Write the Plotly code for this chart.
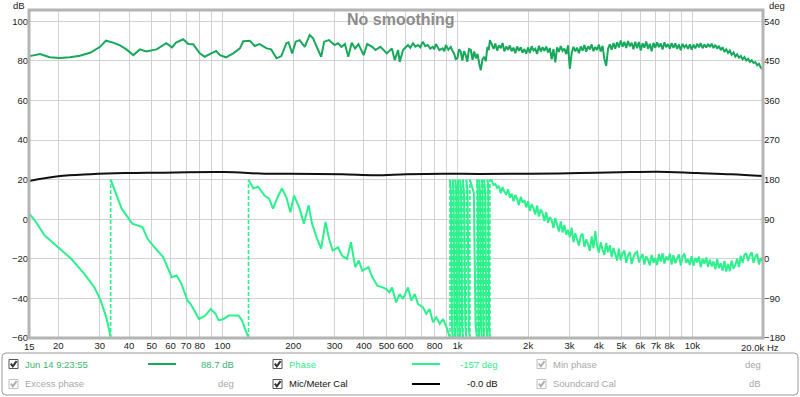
import math
import plotly.graph_objects as go

# ---------------- data ----------------
# SPL (dB), low / mid frequency part
spl_freq_lo = [15.1, 16.7, 18.4, 20.3, 22.4, 24.7, 27.3, 30.1, 31.9, 34.2, 36.6, 39.0, 41.7, 44.5, 47.3,
               52.4, 57.6, 61, 63.4, 68, 71.5, 75, 80, 84, 89.5, 94, 97.5, 103.5, 111, 118.6, 122.5,
               130.7, 137, 144, 154, 161, 170, 178, 187, 191, 198, 205, 213,
               224, 235, 243, 251, 263, 271, 284, 300, 310, 321, 332, 343, 355, 367, 379, 399, 413,
               434, 448, 470, 485, 501, 526, 541, 559, 568, 587, 616, 630, 647, 662, 679, 695, 712,
               730, 748, 766, 785, 797, 810, 838, 865, 880, 893, 915, 937, 952, 968, 984, 1000, 1016,
               1033, 1050, 1067, 1085, 1102, 1120, 1140, 1160, 1178, 1198, 1218, 1238, 1258, 1279,
               1300, 1320, 1343, 1360, 1375]
spl_db_lo = [82.4, 83.4, 81.8, 81.4, 81.8, 82.6, 84.1, 87.1, 90.2, 89.2, 87.8, 85.8, 82.9, 85.8, 84.8,
             85.8, 88.9, 86.8, 89.2, 90.9, 88.5, 88.4, 83.8, 82.1, 83.8, 85.0, 82.9, 81.8, 83.8, 86.3, 89.9,
             90.2, 87.5, 88.5, 86.3, 85.8, 81.3, 82.4, 88.9, 89.4, 83.8, 89.7, 90.5,
             87.1, 93.1, 91.4, 87.5, 82.1, 89.7, 90.5, 88.0, 88.9, 87.1, 88.5, 82.1, 89.2, 86.3, 88.5, 82.9, 88.5,
             87.1, 85.5, 87.1, 85.2, 83.8, 86.3, 80.4, 85.5, 79.5, 85.5, 88.0, 86.6, 88.9, 87.2, 88.0, 86.9, 89.7,
             87.4, 88.0, 86.2, 87.1, 85.9, 88.5, 85.4, 86.3, 84.9, 88.0, 85.6, 87.1, 85.1, 83.8, 80.9, 81.3, 85.8,
             84.6, 80.2, 84.9, 82.9, 79.6, 86.0, 85.5, 80.5, 84.8, 81.3, 83.5, 78.7, 75.3, 80.9,
             82.1, 79.8, 87.1, 85.4, 90.5]

# shared high-frequency grid (Hz)
hf_freq = [1400, 1425, 1450, 1476, 1503, 1530, 1557, 1585, 1614, 1643,
           1672, 1702, 1733, 1764, 1796, 1828, 1861, 1894, 1928, 1963,
           1998, 2034, 2071, 2108, 2146, 2184, 2224, 2264, 2304, 2346,
           2388, 2431, 2474, 2519, 2564, 2610, 2657, 2705, 2754, 2803,
           2854, 2905, 2957, 3010, 3065, 3120, 3176, 3233, 3291, 3350,
           3411, 3472, 3534, 3598, 3663, 3728, 3795, 3864, 3933, 4004,
           4076, 4149, 4224, 4300, 4377, 4456, 4536, 4617, 4700, 4785,
           4871, 4958, 5048, 5138, 5231, 5325, 5420, 5518, 5617, 5718,
           5821, 5926, 6032, 6141, 6251, 6363, 6478, 6594, 6713, 6834,
           6957, 7082, 7209, 7339, 7471, 7605, 7742, 7881, 8023, 8167,
           8314, 8464, 8616, 8771, 8929, 9090, 9253, 9420, 9589, 9762,
           9937, 10116, 10298, 10484, 10672, 10864, 11060, 11259, 11462, 11668,
           11878, 12092, 12310, 12531, 12757, 12986, 13220, 13458, 13700, 13947,
           14198, 14453, 14713, 14978, 15248, 15522, 15802, 16086, 16376, 16671,
           16971, 17276, 17587, 17904, 18226, 18554, 18888, 19228, 19574, 19926]

spl_db_hf = [88.5, 86.0, 88.8, 85.2, 87.9, 86.4, 89.0, 84.8, 87.2, 85.6,
             87.8, 84.9, 86.7, 83.9, 87.3, 85.1, 86.9, 84.2, 86.0, 83.6,
             86.8, 84.0, 87.4, 85.2, 86.1, 83.5, 87.6, 84.7, 86.9, 85.0,
             87.2, 84.3, 86.5, 80.8, 85.9, 79.2, 86.8, 84.5, 87.5, 85.1,
             86.2, 83.4, 87.8, 76.0, 84.0, 87.1, 84.8, 86.6, 83.9, 87.3,
             85.2, 88.0, 84.6, 87.4, 85.8, 88.3, 84.9, 87.0, 85.5, 88.2,
             84.7, 87.6, 81.0, 77.5, 86.0, 88.4, 85.6, 89.0, 86.2, 89.4,
             86.8, 90.3, 87.1, 89.6, 86.5, 90.0, 87.3, 89.2, 85.9, 89.7,
             86.4, 89.5, 85.2, 88.9, 86.7, 89.8, 86.1, 88.6, 84.9, 89.1,
             86.6, 89.4, 87.0, 88.8, 85.8, 89.3, 86.9, 88.5, 86.2, 89.0,
             86.5, 88.9, 86.0, 88.3, 85.4, 88.6, 86.8, 88.0, 86.1, 88.4,
             85.7, 88.2, 86.3, 88.6, 86.9, 88.9, 86.4, 88.3, 86.8, 88.5,
             87.0, 88.7, 86.5, 88.1, 86.2, 87.6, 85.4, 86.9, 84.6, 85.8,
             84.0, 85.2, 83.1, 84.3, 82.2, 83.3, 81.6, 82.5, 80.8, 81.9,
             80.2, 81.0, 79.5, 80.3, 78.9, 79.4, 77.8, 78.5, 76.6, 75.8]

# Phase (deg), low / mid part; a repeated frequency marks a wrap (-180 -> +180)
phase_freq_lo = [15, 15.9, 17.5, 20.0, 22.7, 25.8, 28.5, 30.3, 32.0, 33.0, 33.4,
                 33.4, 34.8, 37.2, 41.3, 43.4, 45.6, 47.9, 50.6, 55.9, 60.8, 63.8, 66.9, 70.9, 73.2,
                 79.4, 84.5, 89.0, 93.4, 96.4, 101.1, 106.2, 117.1, 121, 128, 129,
                 129, 135.3, 141.6, 151, 158, 164, 171.5, 179, 187, 194.5, 201.5, 213, 222, 232.5,
                 240.5, 252.5, 263, 274.5, 284, 294.5, 310.5, 323, 339, 352, 367.5, 380, 394, 418,
                 434.5, 456.5, 480, 496, 513, 527, 548.5, 567.5, 586.5, 616, 636.5, 658, 680, 713,
                 737, 761.5, 787, 813.5, 841, 869, 899, 922.5, 930]
phase_deg_lo = [103, 87, 53, 26, 0, -34, -65, -95, -133, -165, -180,
                180, 155, 114, 80, 76, 72, 46, 30, 4, -42, -38, -57, -95, -103,
                -137, -129, -114, -125, -140, -137, -129, -129, -140, -172, -180,
                180, 160, 164, 144, 137, 114, 140, 160, 140, 106, 144, 114, 80, 122,
                80, 46, 23, 84, 46, 19, 26, 7, 0, 38, -19, -4, -27, -19,
                -42, -61, -65, -68, -76, -65, -99, -80, -91, -65, -95, -80, -103, -110,
                -125, -114, -144, -133, -148, -137, -156, -171, -180]

# Phase in the fast-rotating region around 1 kHz
phase_freq_wrap = [930, 938, 947, 955, 955, 963, 972, 980, 980, 988, 996, 1004,
                   1004, 1012, 1020, 1028, 1028, 1037, 1047, 1056, 1056, 1068, 1080, 1092,
                   1092, 1105, 1118, 1130, 1130, 1150, 1175, 1195, 1205, 1212,
                   1212, 1221, 1230, 1238, 1238, 1249, 1260, 1270, 1270, 1280, 1290, 1300,
                   1300, 1314, 1328, 1343, 1343, 1353, 1364, 1375, 1375]
phase_deg_wrap = [180, 155, -150, -180, 180, 150, -155, -180, 180, 160, -145, -180,
                  180, 150, -150, -180, 180, 155, -155, -180, 180, 145, -150, -180,
                  180, 150, -160, -180, 180, 165, 150, -150, -165, -180,
                  180, 155, -150, -180, 180, 150, -155, -180, 180, 160, -150, -180,
                  180, 150, -155, -180, 180, 165, -160, -180, 180]

phase_deg_hf = [178, 168, 170, 161, 166, 149, 163, 152, 147, 158,
                139, 148, 131, 145, 136, 122, 141, 128, 133, 117,
                131, 109, 124, 115, 101, 121, 96, 112, 104, 86,
                106, 82, 95, 88, 70, 93, 74, 62, 85, 60,
                77, 55, 66, 49, 71, 38, 58, 45, 30, 52,
                57, 27, 44, 34, 18, 51, 24, 63, 29, 14,
                38, 20, 9, 36, 15, 31, 4, 25, 11, -4,
                23, -3, 12, 19, -9, 8, 15, -12, 4, 13,
                16, -8, 3, 11, -13, 6, -2, -15, 9, -9,
                2, -14, 11, -6, 13, -11, 5, -3, 12, -13,
                8, -10, 1, 10, -15, 4, 12, -9, -1, -14,
                6, -16, 2, -8, 5, -19, 0, -11, 3, -18,
                -2, -17, -6, -24, -1, -21, -10, -27, -5, -29,
                -12, -28, -4, -22, -14, 0, -19, 7, -9, 9,
                13, -5, 8, 15, -9, 5, 11, -13, 2, -6]

# Mic/Meter calibration (dB)
cal_freq = [15, 20, 27.4, 38.4, 52.7, 101.5, 151, 193, 323, 447, 605, 869, 1238, 2036, 3317,
            5420, 7060, 10470, 14680, 20000]
cal_db = [19.3, 21.7, 22.7, 23.3, 23.5, 23.8, 23.0, 23.0, 22.7, 22.2, 22.7, 23.0, 22.9, 23.0, 23.3,
          23.8, 24.0, 23.3, 22.7, 21.8]

# axis ticks
x_grid = [20, 30, 40, 50, 60, 70, 80, 90, 100, 200, 300, 400, 500, 600, 700, 800, 900,
          1000, 2000, 3000, 4000, 5000, 6000, 7000, 8000, 9000, 10000]
x_text = ["20", "30", "40", "50", "60", "70", "80", "", "100", "200", "300", "400", "500",
          "600", "", "800", "", "1k", "2k", "3k", "4k", "5k", "6k", "7k", "8k", "", "10k"]
db_ticks = [-60, -40, -20, 0, 20, 40, 60, 80, 100]
deg_ticks = [-180, -90, 0, 90, 180, 270, 360, 450, 540]

# ---------------- layout helpers ----------------
W, H = 800, 397
PL, PR, PT, PB = 29, 763, 10, 338
DB_MIN, DB_MAX = -60, 105.7


def px(x):
    return (x - PL) / (PR - PL)


def py(y):
    return (PB - y) / (PB - PT)


SPL_C = "#17a85c"
PH_C = "#2cf08c"
FONT = "Liberation Sans, Arial, sans-serif"

# ---------------- build phase traces ----------------
ph_f = phase_freq_lo + phase_freq_wrap + hf_freq
ph_d = phase_deg_lo + phase_deg_wrap + phase_deg_hf
sol_x, sol_y, wr_x, wr_y = [], [], [], []
for i, (f, d) in enumerate(zip(ph_f, ph_d)):
    if i > 0 and f == ph_f[i - 1] and abs(d - ph_d[i - 1]) > 300:
        sol_x.append(None)
        sol_y.append(None)
        wr_x += [f, f, None]
        wr_y += [ph_d[i - 1], d, None]
    sol_x.append(f)
    sol_y.append(d)

fig = go.Figure()
fig.add_trace(go.Scatter(x=spl_freq_lo + hf_freq, y=spl_db_lo + spl_db_hf, mode="lines",
                         line=dict(color=SPL_C, width=2), hoverinfo="skip"))
fig.add_trace(go.Scatter(x=wr_x, y=wr_y, yaxis="y2", mode="lines",
                         line=dict(color=PH_C, width=1.6, dash="4px,2px"), hoverinfo="skip"))
fig.add_trace(go.Scatter(x=sol_x, y=sol_y, yaxis="y2", mode="lines",
                         line=dict(color=PH_C, width=2), hoverinfo="skip"))
fig.add_trace(go.Scatter(x=cal_freq, y=cal_db, mode="lines", line=dict(color="#111111", width=2),
                         line_shape="spline", hoverinfo="skip"))

tickfont = dict(family=FONT, size=9.5, color="#222222")
fig.update_layout(
    template="none",
    width=W, height=H, autosize=False,
    margin=dict(l=PL, r=W - PR, t=PT, b=H - PB, pad=0),
    paper_bgcolor="white", plot_bgcolor="white", showlegend=False,
    xaxis=dict(type="log", range=[math.log10(15), math.log10(20000)], tickvals=x_grid,
               ticktext=x_text, showgrid=True, gridcolor="#d2d2d2", gridwidth=1, zeroline=False,
               showline=False, ticks="", tickfont=tickfont, ticklabelstandoff=0, automargin=False),
    yaxis=dict(range=[DB_MIN, DB_MAX], tickvals=db_ticks, showgrid=True, gridcolor="#d2d2d2",
               gridwidth=1, zeroline=False, showline=False, ticks="", tickfont=tickfont,
               ticklabelstandoff=0, automargin=False),
    yaxis2=dict(range=[4.5 * DB_MIN + 90, 4.5 * DB_MAX + 90], tickvals=deg_ticks, overlaying="y",
                side="right", showgrid=False, zeroline=False, showline=False, ticks="",
                tickfont=tickfont, ticklabelstandoff=0, automargin=False),
)

shapes = []
# plot frame
shapes.append(dict(type="rect", xref="paper", yref="paper", x0=0, x1=1, y0=0, y1=1,
                   line=dict(color="#b4b4b4", width=3), layer="above"))

# legend box with rounded corners
bx0, bx1, by0, by1, r = px(2), px(798), py(353), py(395), 4
rx, ry = r / (PR - PL), r / (PB - PT)
path = (f"M {bx0 + rx},{by0} L {bx1 - rx},{by0} Q {bx1},{by0} {bx1},{by0 - ry} "
        f"L {bx1},{by1 + ry} Q {bx1},{by1} {bx1 - rx},{by1} L {bx0 + rx},{by1} "
        f"Q {bx0},{by1} {bx0},{by1 + ry} L {bx0},{by0 - ry} Q {bx0},{by0} {bx0 + rx},{by0} Z")
shapes.append(dict(type="path", xref="paper", yref="paper", path=path,
                   line=dict(color="#9a9a9a", width=1)))


def checkbox(x0, yc, active):
    col = "#333333" if active else "#b0b0b0"
    bcol = "#555555" if active else "#c0c0c0"
    s = 9
    y0 = yc - s / 2
    shapes.append(dict(type="rect", xref="paper", yref="paper", x0=px(x0), x1=px(x0 + s),
                       y0=py(y0), y1=py(y0 + s), line=dict(color=bcol, width=1),
                       fillcolor="white"))
    p = (f"M {px(x0 + 1.8)},{py(y0 + 4.2)} L {px(x0 + 3.8)},{py(y0 + 6.8)} "
         f"L {px(x0 + 7.6)},{py(y0 + 1.6)}")
    shapes.append(dict(type="path", xref="paper", yref="paper", path=p,
                       line=dict(color=col, width=2)))


def sample(x0, x1, yc, color):
    shapes.append(dict(type="line", xref="paper", yref="paper", x0=px(x0), x1=px(x1),
                       y0=py(yc), y1=py(yc), line=dict(color=color, width=2)))


R1, R2 = 364, 384
checkbox(9, R1, True)
checkbox(273, R1, True)
checkbox(537, R1, False)
checkbox(9, R2, False)
checkbox(273, R2, True)
checkbox(537, R2, False)
sample(148, 176, R1, SPL_C)
sample(412, 440, R1, PH_C)
sample(412, 440, R2, "#000000")

ann = []


def text(t, x, y, anchor="left", color="#222222", size=9.5, bold=False):
    ann.append(dict(text=f"<b>{t}</b>" if bold else t, x=px(x), y=py(y), xref="paper",
                    yref="paper", xanchor=anchor, yanchor="middle", showarrow=False,
                    font=dict(family=FONT, size=size, color=color)))


GRAY = "#a8a8a8"
text("No smoothing", 401, 19, "center", "#8c8c8c", 16, True)
text("dB", 27, 5, "right")
text("deg", 767, 5, "left")
text("15", 29, 346, "center")
text("20.0k Hz", 760, 347, "center")
text("Jun 14 9:23:55", 23, R1, "left", "#3cb371")
text("88.7 dB", 236, R1, "right", "#3cb371")
text("Phase", 287, R1, "left", PH_C)
text("-157 deg", 500, R1, "right", PH_C)
text("Min phase", 551, R1, "left", GRAY)
text("deg", 763, R1, "right", GRAY)
text("Excess phase", 23, R2, "left", GRAY)
text("deg", 236, R2, "right", GRAY)
text("Mic/Meter Cal", 287, R2, "left", "#111111")
text("-0.0 dB", 500, R2, "right", "#111111")
text("Soundcard Cal", 551, R2, "left", GRAY)
text("dB", 763, R2, "right", GRAY)

fig.update_layout(shapes=shapes, annotations=ann)
fig.write_html("out.html", config={"displayModeBar": False},
               post_script="document.body.style.margin='0';document.body.style.padding='0';")
